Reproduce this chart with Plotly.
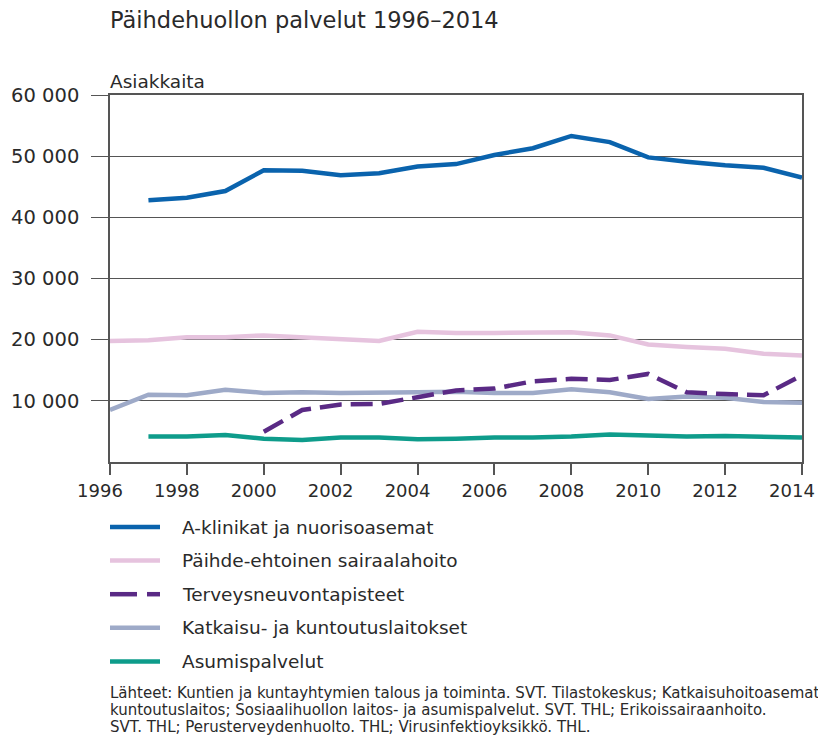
import plotly.graph_objects as go

years = list(range(1996, 2015))

a_klinikat = [None, 42800, 43200, 44300, 47700, 47600, 46900, 47200, 48300, 48700,
              50200, 51300, 53300, 52300, 49800, 49100, 48500, 48100, 46500]
paihde = [19800, 19900, 20400, 20400, 20700, 20400, 20200, 19800, 21300, 21100,
          21100, 21200, 21200, 20700, 19200, 18800, 18500, 17700, 17400]
terveys = [None, None, None, None, 4950, 8500, 9400, 9500, 10600, 11700,
           12000, 13200, 13600, 13400, 14400, 11400, 11100, 10900, 14200]
katkaisu = [8500, 11000, 10900, 11800, 11300, 11400, 11300, 11300, 11400, 11500,
            11300, 11300, 11900, 11400, 10300, 10700, 10500, 9800, 9700]
asumis = [None, 4150, 4150, 4400, 3800, 3600, 4000, 4000, 3700, 3800,
          4000, 4000, 4150, 4500, 4400, 4150, 4250, 4150, 4000]

series_names = ["A-klinikat ja nuorisoasemat", "Päihde-ehtoinen sairaalahoito",
                "Terveysneuvontapisteet", "Katkaisu- ja kuntoutuslaitokset",
                "Asumispalvelut"]
series_values = [a_klinikat, paihde, terveys, katkaisu, asumis]
colors = ["#0a63ad", "#e6c3de", "#5a2a85", "#9eaac8", "#0e9c8b"]
dashes = ["solid", "solid", "22px,9px", "solid", "solid"]

y_tickvals = [10000, 20000, 30000, 40000, 50000, 60000]
y_ticktext = ["10 000", "20 000", "30 000", "40 000", "50 000", "60 000"]
x_tickvals = list(range(1996, 2015, 2))

title_text = "Päihdehuollon palvelut 1996–2014"
y_title = "Asiakkaita"
source_lines = [
    "Lähteet: Kuntien ja kuntayhtymien talous ja toiminta. SVT. Tilastokeskus; Katkaisuhoitoasemat ja",
    "kuntoutuslaitos; Sosiaalihuollon laitos- ja asumispalvelut. SVT. THL; Erikoissairaanhoito.",
    "SVT. THL; Perusterveydenhuolto. THL; Virusinfektioyksikkö. THL.",
]

FONT = "DejaVu Sans, Liberation Sans, sans-serif"
TXT = "#2a2a2a"
LW = 4.5

W, H = 818, 738
PL, PR, PT, PB = 110, 802, 95, 462  # plot area in page pixels


def px_x(px):
    return (px - PL) / (PR - PL)


def px_y(py):
    return (PB - py) / (PB - PT)


fig = go.Figure()

order = [1, 3, 4, 2, 0]
for i in order:
    fig.add_trace(go.Scatter(x=years, y=series_values[i], mode="lines",
                             name=series_names[i], showlegend=False,
                             line=dict(color=colors[i], width=LW, dash=dashes[i]),
                             connectgaps=False, hoverinfo="x+y+name"))

# legend drawn manually to match spacing
leg_top = 527
leg_step = 33.6
for i, name in enumerate(series_names):
    ypx = leg_top + i * leg_step
    fig.add_annotation(xref="paper", yref="paper", x=px_x(180), y=px_y(ypx),
                       text=name, showarrow=False, xanchor="left", yanchor="middle",
                       font=dict(family=FONT, size=18.5, color=TXT))
    if dashes[i] == "solid":
        segs = [(110, 160)]
    else:
        segs = [(110, 137), (147, 160)]
    for a, b in segs:
        fig.add_shape(type="line", xref="paper", yref="paper",
                      x0=px_x(a), x1=px_x(b), y0=px_y(ypx), y1=px_y(ypx),
                      line=dict(color=colors[i], width=LW))

for j, t in enumerate(source_lines):
    ypx = 693 + j * 17
    fig.add_annotation(xref="paper", yref="paper", x=px_x(108), y=px_y(ypx),
                       text=t, showarrow=False, xanchor="left", yanchor="middle",
                       font=dict(family=FONT, size=15, color=TXT))

fig.add_annotation(xref="paper", yref="paper", x=px_x(108), y=px_y(81),
                   text=y_title, showarrow=False, xanchor="left", yanchor="middle",
                   font=dict(family=FONT, size=18.5, color=TXT))

fig.update_layout(
    width=W, height=H,
    margin=dict(l=PL, r=W - PR, t=PT, b=H - PB, autoexpand=False),
    paper_bgcolor="white", plot_bgcolor="white",
    title=dict(text=title_text, x=110 / W, xanchor="left",
               y=1 - 20 / H, yanchor="middle",
               font=dict(family=FONT, size=22.5, color=TXT)),
    font=dict(family=FONT, color=TXT),
    xaxis=dict(range=[1996, 2014], tickvals=x_tickvals, ticks="outside", ticklen=11,
               tickwidth=1.5, tickcolor="#555", showgrid=False, showline=True,
               mirror=True, linecolor="#555", linewidth=1.6, zeroline=False,
               ticklabelstandoff=1, ticklabelshift=-10, ticklabeloverflow="allow",
               tickfont=dict(family=FONT, size=18, color=TXT)),
    yaxis=dict(range=[0, 60000], tickvals=y_tickvals, ticktext=y_ticktext,
               ticks="outside", ticklen=17, tickwidth=1.2, tickcolor="#555",
               showgrid=True, gridcolor="#555", gridwidth=1.2,
               showline=True, mirror=True, linecolor="#555", linewidth=1.6,
               zeroline=False, ticklabelstandoff=8, ticklabeloverflow="allow",
               tickfont=dict(family=FONT, size=19.5, color=TXT)),
)

fig.write_html(
    "out.html",
    config={"displayModeBar": False},
    post_script="document.body.style.margin='0';document.body.style.overflow='hidden';",
)
